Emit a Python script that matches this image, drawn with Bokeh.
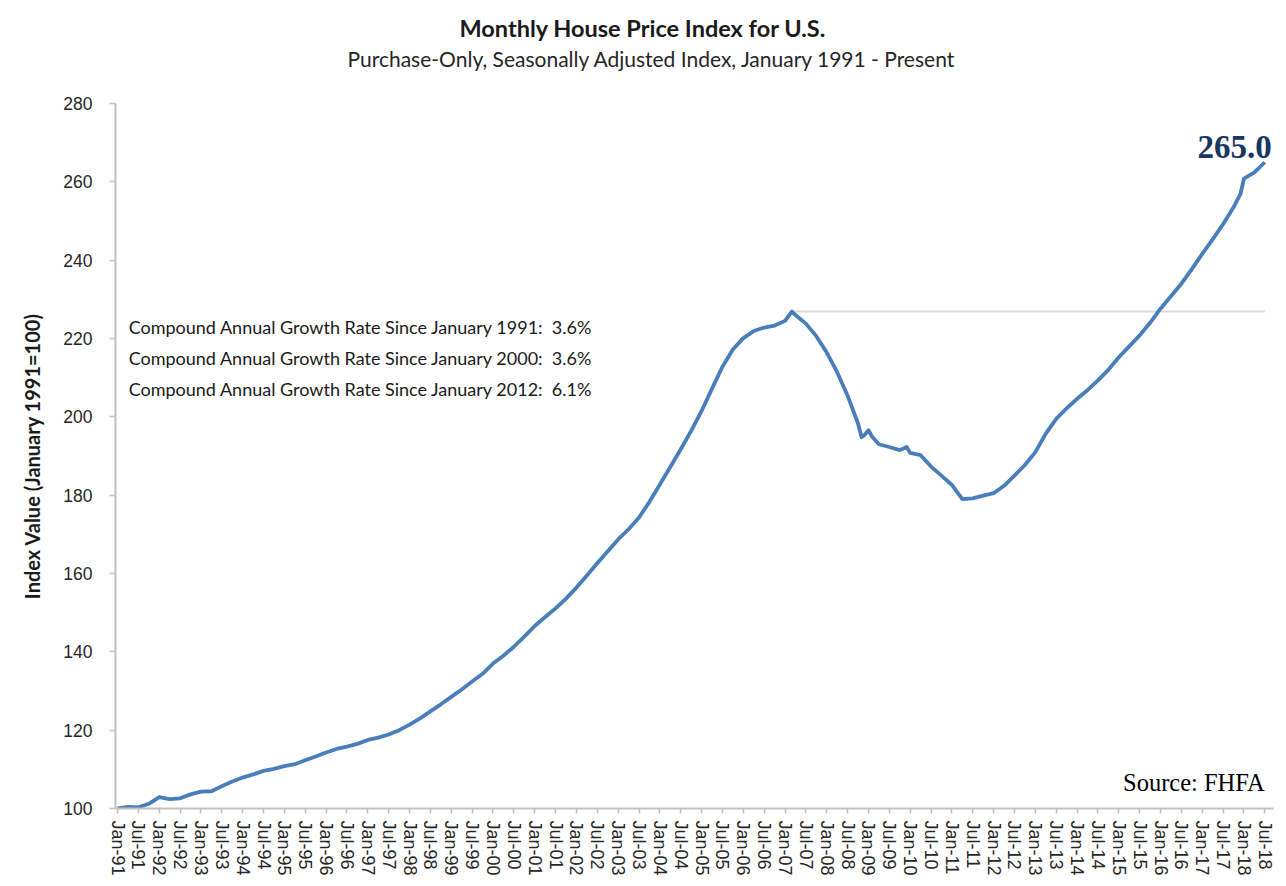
from bokeh.plotting import figure
from bokeh.models import Range1d, FixedTicker, Label, Title
from bokeh.embed import file_html
from bokeh.resources import INLINE

# ---------------- data ----------------
dates = [
    "1991-01", "1991-04", "1991-07", "1991-10",
    "1992-01", "1992-04", "1992-07", "1992-10",
    "1993-01", "1993-04", "1993-07", "1993-10",
    "1994-01", "1994-04", "1994-07", "1994-10",
    "1995-01", "1995-04", "1995-07", "1995-10",
    "1996-01", "1996-04", "1996-07", "1996-10",
    "1997-01", "1997-04", "1997-07", "1997-10",
    "1998-01", "1998-04", "1998-07", "1998-10",
    "1999-01", "1999-04", "1999-07", "1999-10",
    "2000-01", "2000-04", "2000-07", "2000-10",
    "2001-01", "2001-04", "2001-07", "2001-10",
    "2002-01", "2002-04", "2002-07", "2002-10",
    "2003-01", "2003-04", "2003-07", "2003-10",
    "2004-01", "2004-04", "2004-07", "2004-10",
    "2005-01", "2005-04", "2005-07", "2005-10",
    "2006-01", "2006-04", "2006-07", "2006-10",
    "2007-01", "2007-03", "2007-04", "2007-07", "2007-10",
    "2008-01", "2008-04", "2008-07", "2008-10", "2008-11", "2008-12",
    "2009-01", "2009-02", "2009-04", "2009-07", "2009-10", "2009-12",
    "2010-01", "2010-04", "2010-07", "2010-10",
    "2011-01", "2011-04", "2011-07", "2011-10",
    "2012-01", "2012-04", "2012-07", "2012-10",
    "2013-01", "2013-04", "2013-07", "2013-10",
    "2014-01", "2014-04", "2014-07", "2014-10",
    "2015-01", "2015-04", "2015-07", "2015-10",
    "2016-01", "2016-04", "2016-07", "2016-10",
    "2017-01", "2017-04", "2017-07", "2017-10", "2017-12",
    "2018-01", "2018-04", "2018-07",
]
hpi = [
    100.0, 100.4, 100.3, 101.2,
    102.9, 102.4, 102.6, 103.6,
    104.3, 104.4, 105.7, 106.9,
    107.9, 108.7, 109.6, 110.1,
    110.8, 111.3, 112.3, 113.3,
    114.3, 115.2, 115.8, 116.5,
    117.5, 118.1, 118.9, 120.0,
    121.4, 123.0, 124.8, 126.6,
    128.5, 130.4, 132.4, 134.4,
    137.0, 139.0, 141.3, 143.9,
    146.6, 148.9, 151.1, 153.6,
    156.4, 159.5, 162.6, 165.7,
    168.7, 171.3, 174.3, 178.3,
    182.7, 187.2, 191.7, 196.4,
    201.5, 207.2, 212.8, 217.2,
    220.1, 221.9, 222.8, 223.3,
    224.5, 226.9, 226.0, 223.8, 220.6,
    216.4, 211.4, 205.4, 198.3, 194.8, 195.5,
    196.6, 195.0, 193.0, 192.3, 191.5, 192.3,
    190.8, 190.2, 187.3, 185.0,
    182.6, 179.0, 179.2, 179.9,
    180.5, 182.4, 185.0, 187.7,
    191.0, 195.7, 199.5, 202.2,
    204.6, 206.8, 209.3, 212.0,
    215.2, 218.0, 220.8, 224.0,
    227.6, 230.8, 234.0, 237.7,
    241.6, 245.3, 249.2, 253.5, 256.9,
    260.8, 262.4, 265.0,
]
tick_years = list(range(1991, 2019))
tick_months = ["Jan", "Jul"]
tick_labels = [f"{m}-{y % 100:02d}" for y in tick_years for m in tick_months]
y_ticks = [100, 120, 140, 160, 180, 200, 220, 240, 260, 280]
cagr_texts = [
    "Compound Annual Growth Rate Since January 1991:\u00a0\u00a03.6%",
    "Compound Annual Growth Rate Since January 2000:\u00a0\u00a03.6%",
    "Compound Annual Growth Rate Since January 2012:\u00a0\u00a06.1%",
]
title_text = "Monthly House Price Index for U.S."
subtitle_text = "Purchase-Only, Seasonally Adjusted Index, January 1991 - Present"
y_label = "Index Value (January 1991=100)"
source_text = "Source: FHFA"


def month_index(s):
    y, m = s.split("-")
    return (int(y) - 1991) * 12 + int(m) - 1


x = [month_index(d) for d in dates]
n_months = len(tick_labels) * 6 - 6  # last tick index (Jul-18)

# ---------------- figure ----------------
p = figure(
    width=1280, height=880,
    output_backend="svg", toolbar_location=None,
    x_range=Range1d(-0.58, n_months + 2.5),
    y_range=Range1d(y_ticks[0], y_ticks[-1]),
    min_border_left=115, min_border_right=7,
    min_border_top=103, min_border_bottom=72,
    title=None,
)
p.outline_line_color = None
p.background_fill_color = "white"
p.border_fill_color = "white"
p.xgrid.visible = False
p.ygrid.visible = False

# titles, stacked upward from the plot frame
spacer = Title(text="\u00a0", text_font_size="10px", standoff=19,
               vertical_align="middle")
sub = Title(text=subtitle_text, align="left", offset=232,
            text_font="Lato", text_font_size="21px",
            text_font_style="normal", text_color="#262626", standoff=0,
            vertical_align="middle")
main = Title(text=title_text, align="left", offset=344,
             text_font="Lato", text_font_size="23.5px",
             text_font_style="bold", text_color="#1a1a1a", standoff=3,
             vertical_align="middle")
p.add_layout(spacer, "above")
p.add_layout(sub, "above")
p.add_layout(main, "above")

axis_col = "#BFBFBF"
# x axis
p.xaxis.ticker = FixedTicker(ticks=list(range(0, n_months + 1, 6)))
p.xaxis.major_label_overrides = {i * 6: lab for i, lab in enumerate(tick_labels)}
p.xaxis.major_label_orientation = "vertical"
p.xaxis.major_label_text_font = "Liberation Sans"
p.xaxis.major_label_text_font_size = "18px"
p.xaxis.major_label_text_color = "#262626"
p.xaxis.major_label_standoff = 7
p.xaxis.axis_line_color = axis_col
p.xaxis.axis_line_width = 2
p.xaxis.major_tick_line_color = axis_col
p.xaxis.major_tick_line_width = 1.5
p.xaxis.major_tick_out = 5
p.xaxis.major_tick_in = 0
p.xaxis.minor_tick_line_color = None

# y axis
p.yaxis.ticker = FixedTicker(ticks=y_ticks)
p.yaxis.major_label_text_font = "Liberation Sans"
p.yaxis.major_label_text_font_size = "17.5px"
p.yaxis.major_label_text_color = "#262626"
p.yaxis.major_label_standoff = 17
p.yaxis.axis_line_color = axis_col
p.yaxis.axis_line_width = 2
p.yaxis.major_tick_line_color = axis_col
p.yaxis.major_tick_line_width = 1.5
p.yaxis.major_tick_out = 6
p.yaxis.major_tick_in = 0
p.yaxis.minor_tick_line_color = None
p.yaxis.axis_label = y_label
p.yaxis.axis_label_text_font = "Lato"
p.yaxis.axis_label_text_font_size = "20px"
p.yaxis.axis_label_text_font_style = "bold"
p.yaxis.axis_label_text_color = "#1a1a1a"
p.yaxis.axis_label_standoff = 16

# previous-peak reference line
peak_val = max(hpi[: x.index(month_index("2010-01"))])
peak_x = x[hpi.index(peak_val)]
p.line([peak_x, x[-1]], [peak_val, peak_val], line_color="#D9D9D9", line_width=2)

# main series
p.line(x, hpi, line_color="#4A7EBB", line_width=3.8, line_join="round")

# annotations
for i, t in enumerate(cagr_texts):
    p.add_layout(Label(x=3.2, y=223.0 - i * 7.9, text=t,
                       text_font="Lato", text_font_size="18px",
                       text_color="#1a1a1a", text_baseline="middle",
                       text_align="left"))

p.add_layout(Label(x=n_months + 2.0, y=269.0, text=f"{hpi[-1]:.1f}",
                   text_font="Liberation Serif", text_font_size="33px",
                   text_font_style="bold", text_color="#17375E",
                   text_baseline="middle", text_align="right"))

p.add_layout(Label(x=n_months, y=106.6, text=source_text,
                   text_font="Liberation Serif", text_font_size="24.5px",
                   text_color="black", text_baseline="middle",
                   text_align="right"))

open("out.html", "w").write(file_html(p, INLINE))
